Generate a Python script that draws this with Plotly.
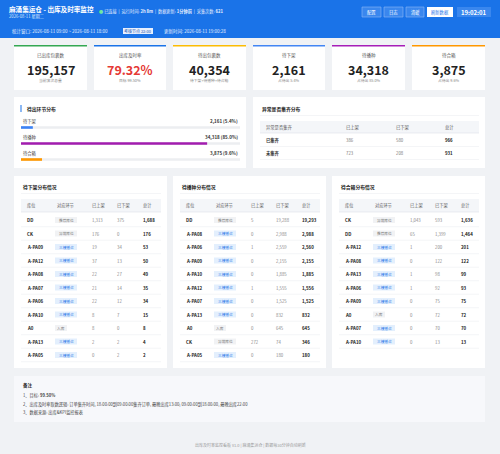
import plotly.graph_objects as go

kpi_labels = ["已出库包裹数", "出库及时率", "待出包裹数", "待下架", "待播种", "待合箱"]
kpi_values = ["195,157", "79.32%", "40,354", "2,161", "34,318", "3,875"]
kpi_subs = ["当前波次总量", "目标 99.50%", "待下架+待播种+待合箱", "占待出 5.4%", "占待出 85.0%", "占待出 9.6%"]
kpi_colors = ["#34a853", "#1a73e8", "#fbbc04", "#4285f4", "#a61eb8", "#ff9800"]

stage_names = ["待下架", "待播种", "待合箱"]
stage_counts = [2161, 34318, 3875]
stage_pct = [5.4, 85.0, 9.6]
stage_colors = ["#3b82f6", "#a21caf", "#ff9800"]

abn_rows = ["已集齐", "未集齐"]
abn_up = [386, 723]
abn_down = [580, 208]
abn_total = [966, 931]

t1_loc = ["DD", "CK", "A-PA09", "A-PA12", "A-PA08", "A-PA07", "A-PA06", "A-PA10", "A0", "A-PA13", "A-PA05"]
t1_stage = ["推荐库位", "异常库位", "三楼播合", "三楼播合", "三楼播合", "三楼播合", "三楼播合", "三楼播合", "入库", "三楼播合", "三楼播合"]
t1_up = [1313, 176, 19, 37, 22, 21, 22, 8, 8, 2, 0]
t1_down = [375, 0, 34, 13, 27, 14, 12, 7, 0, 2, 2]
t1_total = [1688, 176, 53, 50, 49, 35, 34, 15, 8, 4, 2]

t2_loc = ["DD", "A-PA08", "A-PA06", "A-PA09", "A-PA10", "A-PA12", "A-PA07", "A-PA13", "A0", "CK", "A-PA05"]
t2_stage = ["推荐库位", "三楼播合", "三楼播合", "三楼播合", "三楼播合", "三楼播合", "三楼播合", "三楼播合", "入库", "异常库位", "三楼播合"]
t2_up = [5, 0, 1, 0, 0, 1, 0, 0, 0, 272, 0]
t2_down = [19288, 2988, 2559, 2155, 1885, 1555, 1525, 832, 645, 74, 180]
t2_total = [19293, 2988, 2560, 2155, 1885, 1556, 1525, 832, 645, 346, 180]

t3_loc = ["CK", "DD", "A-PA12", "A-PA08", "A-PA13", "A-PA06", "A-PA09", "A0", "A-PA07", "A-PA10"]
t3_stage = ["异常库位", "推荐库位", "三楼播合", "三楼播合", "三楼播合", "三楼播合", "三楼播合", "入库", "三楼播合", "三楼播合"]
t3_up = [1043, 65, 1, 0, 1, 1, 0, 0, 0, 0]
t3_down = [593, 1399, 200, 122, 98, 92, 75, 72, 70, 13]
t3_total = [1636, 1464, 201, 122, 99, 93, 75, 72, 70, 13]

FONT = "Noto Sans CJK SC"
fig = go.Figure()
shapes = []
ann = []

def rect(x0, y0, x1, y1, fill, line=None):
    shapes.append(dict(type="rect", xref="x", yref="y", x0=x0, y0=y0, x1=x1, y1=y1,
                       fillcolor=fill, line=dict(width=0.6 if line else 0, color=line or fill), layer="below"))

def txt(x, y, s, size=5, color="#333", bold=False, anchor="left"):
    if bold:
        s = "<b>" + s + "</b>"
    ann.append(dict(x=x, y=y, xref="x", yref="y", text=s, showarrow=False, xanchor=anchor, yanchor="middle",
                    font=dict(family=FONT, size=size, color=color)))

def hline(x0, x1, y, color="#eceef2"):
    shapes.append(dict(type="line", xref="x", yref="y", x0=x0, x1=x1, y0=y, y1=y, line=dict(color=color, width=0.6)))

rect(0, 0, 500, 454, "#f0f2f5")
rect(0, 0, 500, 38, "#1a73e8")
txt(7, 9, "麻涌集运仓 - 出库及时率监控", 6.6, "white", True)
txt(7, 16, "2026-08-11 星期二", 4.2, "#dbe8fc")
txt(97, 11.5, "<span style='color:#6ee7a0'>●</span> 已连接  |  运行时间: <b>2h 8m</b>  |  数据更新: <b>1分钟前</b>  |  采集次数: <b>621</b>", 4.2, "#e8f0fe")
for (x0, x1, lab) in [(362, 381, "配置"), (384, 403, "日志"), (406, 424, "清缓")]:
    rect(x0, 7, x1, 17, "#3a87ee", "#8fb8f5")
    txt((x0 + x1) / 2, 12, lab, 4.3, "white", anchor="center")
rect(427, 7, 453, 17, "#ffffff")
txt(440, 12, "刷新数据", 4.3, "#1a73e8", anchor="center")
rect(457, 7, 491, 17, "#3a87ee")
txt(474, 12, "19:02:01", 6, "white", True, anchor="center")
txt(10, 31, "统计窗口: 2026-08-11 09:00 ~ 2026-08-11 18:00", 4.5, "#e8f0fe")
rect(123, 28, 153, 34, "#e8f0fe")
txt(138, 31, "考核节点 22:00", 4, "#1a56b0", anchor="center")
txt(162, 31, "更新时间: 2026-08-11 19:00:28", 4.5, "#e8f0fe")

kx = [(14, 87), (94, 166), (173, 246), (253, 325), (332, 405), (412, 485)]
for i, (x0, x1) in enumerate(kx):
    rect(x0, 45, x1, 90, "white")
    rect(x0, 45, x1, 46.5, kpi_colors[i])
    cx = (x0 + x1) / 2
    txt(cx, 55.5, kpi_labels[i], 4.5, "#555", anchor="center")
    txt(cx, 69, kpi_values[i], 12.5, "#e53935" if i == 1 else "#222", True, anchor="center")
    txt(cx, 80.5, kpi_subs[i], 3.8, "#888", anchor="center")

rect(14, 97, 246, 168, "white")
rect(20.5, 105, 21.5, 112, "#1a73e8")
txt(25, 108.5, "待出环节分布", 4.8, "#222", True)
for i, n in enumerate(stage_names):
    y = 121 + i * 16
    txt(21, y, n, 4.3, "#444")
    txt(240, y, f"{stage_counts[i]:,} ({stage_pct[i]}%)", 4.5, "#333", True, anchor="right")

rect(253, 97, 485, 168, "white")
txt(260, 108.5, "异常是否集齐分布", 4.8, "#222", True)
hline(260, 479, 115.5)
rect(260, 121, 479, 133, "#f4f6f9")
hline(260, 479, 133, "#dde1e7")
cols2 = [264, 344, 394, 443]
for x, h in zip(cols2, ["异常是否集齐", "已上架", "已下架", "总计"]):
    txt(x, 127, h, 4.3, "#555")
for r in range(2):
    y = 140 + r * 13
    txt(cols2[0], y, abn_rows[r], 4.3, "#333", True)
    txt(cols2[1], y, str(abn_up[r]), 4.3, "#777")
    txt(cols2[2], y, str(abn_down[r]), 4.3, "#777")
    txt(cols2[3], y, str(abn_total[r]), 4.3, "#222", True)
    hline(260, 479, y + 6.5)

tables = [
    ("待下架分布情况", t1_loc, t1_stage, t1_up, t1_down, t1_total),
    ("待播种分布情况", t2_loc, t2_stage, t2_up, t2_down, t2_total),
    ("待合箱分布情况", t3_loc, t3_stage, t3_up, t3_down, t3_total),
]
tx = [14, 173, 332]
for k, (title, loc, stg, up, dn, tot) in enumerate(tables):
    x0 = tx[k]
    rect(x0, 176, x0 + 153, 368, "white")
    txt(x0 + 7, 187, title, 4.8, "#222", True)
    hline(x0 + 7, x0 + 147, 193.5)
    rect(x0 + 7, 199, x0 + 147, 212, "#f4f6f9")
    hline(x0 + 7, x0 + 147, 212, "#dde1e7")
    cx = [x0 + 11, x0 + 41, x0 + 76, x0 + 101, x0 + 127]
    for x, h in zip(cx, ["库位", "对应环节", "已上架", "已下架", "总计"]):
        txt(x, 205.5, h, 4.2, "#555")
    for r in range(len(loc)):
        y = 220 + r * 13.5
        txt(cx[0], y, loc[r], 4.4, "#222", True)
        blue = stg[r] == "三楼播合"
        w = 22 if len(stg[r]) == 4 else 12
        rect(cx[1], y - 3, cx[1] + w, y + 3, "#e3effd" if blue else "#f1f2f4")
        txt(cx[1] + w / 2, y, stg[r], 3.7, "#1a73e8" if blue else "#777", anchor="center")
        txt(cx[2], y, f"{up[r]:,}", 4.3, "#888")
        txt(cx[3], y, f"{dn[r]:,}", 4.3, "#888")
        txt(cx[4], y, f"{tot[r]:,}", 4.4, "#222", True)
        hline(x0 + 7, x0 + 147, y + 6.7)

rect(14, 376, 485, 422, "#f7f8fb")
txt(21, 385, "备注", 4.5, "#333", True)
txt(21, 395.5, "1、目标: <b>99.50%</b>", 4.2, "#444")
txt(21, 404, "2、出库及时率取数逻辑: 订单集齐时间, 18:00:00到09:00:00集齐订单, 最晚出库13:00; 09:00:00到18:00:00, 最晚出库22:00", 4.2, "#444")
txt(21, 412.5, "3、数据来源: 出库&KPI监控报表", 4.2, "#444")
txt(250, 445, "出库及时率监控看板 v1.0 | 麻涌集运仓 | 数据每30分钟自动刷新", 4, "#999", anchor="center")

ypos = [127.5, 143.5, 159.5]
fig.add_trace(go.Bar(x=[100] * 3, y=ypos, orientation="h", width=2.6, marker=dict(color="#eceef1", line_width=0),
                     xaxis="x2", yaxis="y2", hoverinfo="skip"))
fig.add_trace(go.Bar(x=stage_pct, y=ypos, orientation="h", width=2.6, marker=dict(color=stage_colors, line_width=0),
                     xaxis="x2", yaxis="y2", hoverinfo="skip"))

fig.update_layout(
    width=500, height=454, margin=dict(l=0, r=0, t=0, b=0), showlegend=False, autosize=False,
    paper_bgcolor="#f0f2f5", plot_bgcolor="rgba(0,0,0,0)", barmode="overlay",
    xaxis=dict(range=[0, 500], visible=False, fixedrange=True),
    yaxis=dict(range=[454, 0], visible=False, fixedrange=True),
    xaxis2=dict(domain=[21 / 500, 240 / 500], range=[0, 100], visible=False, anchor="y2"),
    yaxis2=dict(domain=[1 - 165 / 454, 1 - 121 / 454], range=[165, 121], visible=False, anchor="x2"),
    shapes=shapes, annotations=ann,
)
fig.write_html("out.html", config={"displayModeBar": False},
               post_script="document.body.style.margin='0';document.body.style.overflow='hidden';")
